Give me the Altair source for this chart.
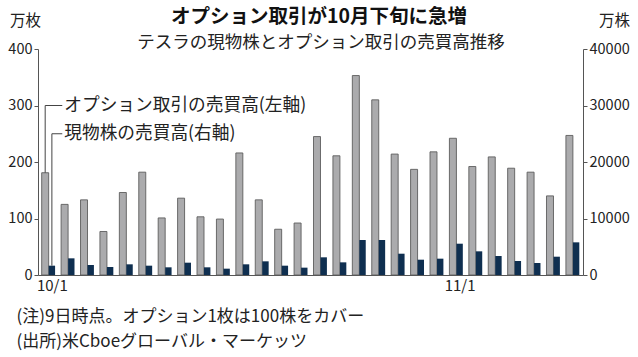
import altair as alt
import pandas as pd

FONT = "Noto Sans CJK JP"

dates = ["10/1", "10/4", "10/5", "10/6", "10/7", "10/8",
         "10/11", "10/12", "10/13", "10/14", "10/15",
         "10/18", "10/19", "10/20", "10/21", "10/22",
         "10/25", "10/26", "10/27", "10/28", "10/29",
         "11/1", "11/2", "11/3", "11/4", "11/5", "11/8", "11/9"]
options_vol = [181, 125, 133, 77, 146, 182, 101, 136, 103, 99, 216,
               133, 81, 92, 245, 211, 353, 310, 214, 187, 218,
               242, 192, 209, 189, 182, 140, 247]
spot_vol = [1650, 2950, 1770, 1420, 1890, 1650, 1360, 2180, 1360, 1120, 1890,
            2420, 1650, 1300, 3130, 2240, 6190, 6190, 3770, 2710, 2890,
            5540, 4190, 3360, 2480, 2120, 3240, 5780]
x_tick_labels = ["10/1", "11/1"]
left_ticks = [0, 100, 200, 300, 400]
right_ticks = [0, 10000, 20000, 30000, 40000]

title_text = "オプション取引が10月下旬に急増"
subtitle_text = "テスラの現物株とオプション取引の売買高推移"
label_opt = "オプション取引の売買高(左軸)"
label_spot = "現物株の売買高(右軸)"
notes = ["(注)9日時点。オプション1枚は100株をカバー", "(出所)米Cboeグローバル・マーケッツ"]

df = pd.DataFrame({"date": dates, "opt": options_vol, "spot": spot_vol})
df["idx"] = range(len(df))

W, H = 545, 226
xs = alt.Scale(domain=[0, 28.07], nice=False, zero=False)
yl = alt.Scale(domain=[0, 400], nice=False)
yr = alt.Scale(domain=[0, 40000], nice=False)

tick_pos = [dates.index(l) + 0.715 for l in x_tick_labels]
label_expr = " : ".join(
    [f"abs(datum.value - {p}) < 0.01 ? '{l}'" for p, l in zip(tick_pos, x_tick_labels)]
) + " : ''"

xaxis = alt.Axis(values=tick_pos, labelExpr=label_expr, ticks=False, grid=False,
                 domainColor="#555", labelFontSize=15, labelColor="#222",
                 labelFont=FONT, labelPadding=3, title=notes, titleFont=FONT,
                 titleFontSize=17, titleFontWeight="normal", titleColor="#222",
                 titleAnchor="start", titleAlign="left", titleBaseline="top",
                 titleX=-22, titleY=33, titleLineHeight=25)

base = alt.Chart(df).transform_calculate(
    gx0="datum.idx + 0.19", gx1="datum.idx + 0.55",
    nx0="datum.idx + 0.55", nx1="datum.idx + 0.88", zero="0",
)

gray = base.mark_bar(color="#ababad", stroke="#5e5e5e", strokeWidth=0.9).encode(
    x=alt.X("gx0:Q", scale=xs, axis=xaxis),
    x2="gx1:Q",
    y=alt.Y("opt:Q", scale=yl, axis=alt.Axis(
        values=left_ticks, orient="left", grid=False, tickSize=4,
        domainColor="#555", tickColor="#555", labelFontSize=14.5, labelColor="#222",
        labelFont=FONT, labelPadding=2, title="万枚", titleFont=FONT,
        titleFontSize=15.5, titleFontWeight="normal", titleColor="#222",
        titleAngle=0, titleX=-13, titleY=-29, titleAlign="center",
        titleBaseline="middle")),
    y2="zero:Q",
)

navy = base.mark_bar(color="#0f2f50").encode(
    x=alt.X("nx0:Q", scale=xs, axis=xaxis),
    x2="nx1:Q",
    y=alt.Y("spot:Q", scale=yr, axis=alt.Axis(
        values=right_ticks, format="d", orient="right", grid=False, tickSize=4,
        domainColor="#555", tickColor="#555", labelFontSize=14.5, labelColor="#222",
        labelFont=FONT, labelPadding=2, title="万株", titleFont=FONT,
        titleFontSize=15.5, titleFontWeight="normal", titleColor="#222",
        titleAngle=0, titleX=31, titleY=-29, titleAlign="center",
        titleBaseline="middle")),
    y2="zero:Q",
)

# annotation leaders (in left-axis units)
ann = pd.DataFrame({
    "xv": [0.37, 0.715],
    "y0": [options_vol[0], spot_vol[0] / 100.0],
    "y1": [300, 250],
    "xe": [1.25, 1.25],
    "label": [label_opt, label_spot],
})
yl_hidden = alt.Scale(domain=[0, 400], nice=False)
vert = alt.Chart(ann).mark_rule(color="#444", strokeWidth=1).encode(
    x=alt.X("xv:Q", scale=xs, axis=xaxis),
    y=alt.Y("y0:Q", scale=yl_hidden, axis=None),
    y2="y1:Q",
)
horiz = alt.Chart(ann).mark_rule(color="#444", strokeWidth=1).encode(
    x=alt.X("xv:Q", scale=xs, axis=xaxis),
    x2="xe:Q",
    y=alt.Y("y1:Q", scale=yl_hidden, axis=None),
)
txt = alt.Chart(ann).mark_text(align="left", baseline="middle", dx=2,
                               fontSize=17.7, font=FONT, color="#222").encode(
    x=alt.X("xe:Q", scale=xs, axis=xaxis),
    y=alt.Y("y1:Q", scale=yl_hidden, axis=None),
    text="label:N",
)

heads = pd.DataFrame({"t": [title_text, subtitle_text]})
title_mark = alt.Chart(heads).transform_filter(
    alt.datum.t == title_text
).mark_text(align="center", baseline="middle", fontSize=19.5, fontWeight="bold",
            font=FONT, color="#111").encode(
    x=alt.value(281), y=alt.value(-32), text="t:N")
sub_mark = alt.Chart(heads).transform_filter(
    alt.datum.t == subtitle_text
).mark_text(align="center", baseline="middle", fontSize=17.5,
            font=FONT, color="#222").encode(
    x=alt.value(283), y=alt.value(-6.5), text="t:N")

chart = alt.layer(gray, navy, vert, horiz, txt, title_mark, sub_mark).resolve_scale(
    y="independent"
).properties(
    width=W, height=H,
    autosize=alt.AutoSizeParams(type="none"),
    padding={"left": 38, "top": 49, "right": 638 - 38 - W, "bottom": 357 - 49 - H},
    background="white",
).configure_view(stroke=None)

chart.save("out.html", embed_options={"renderer": "svg", "actions": False})
